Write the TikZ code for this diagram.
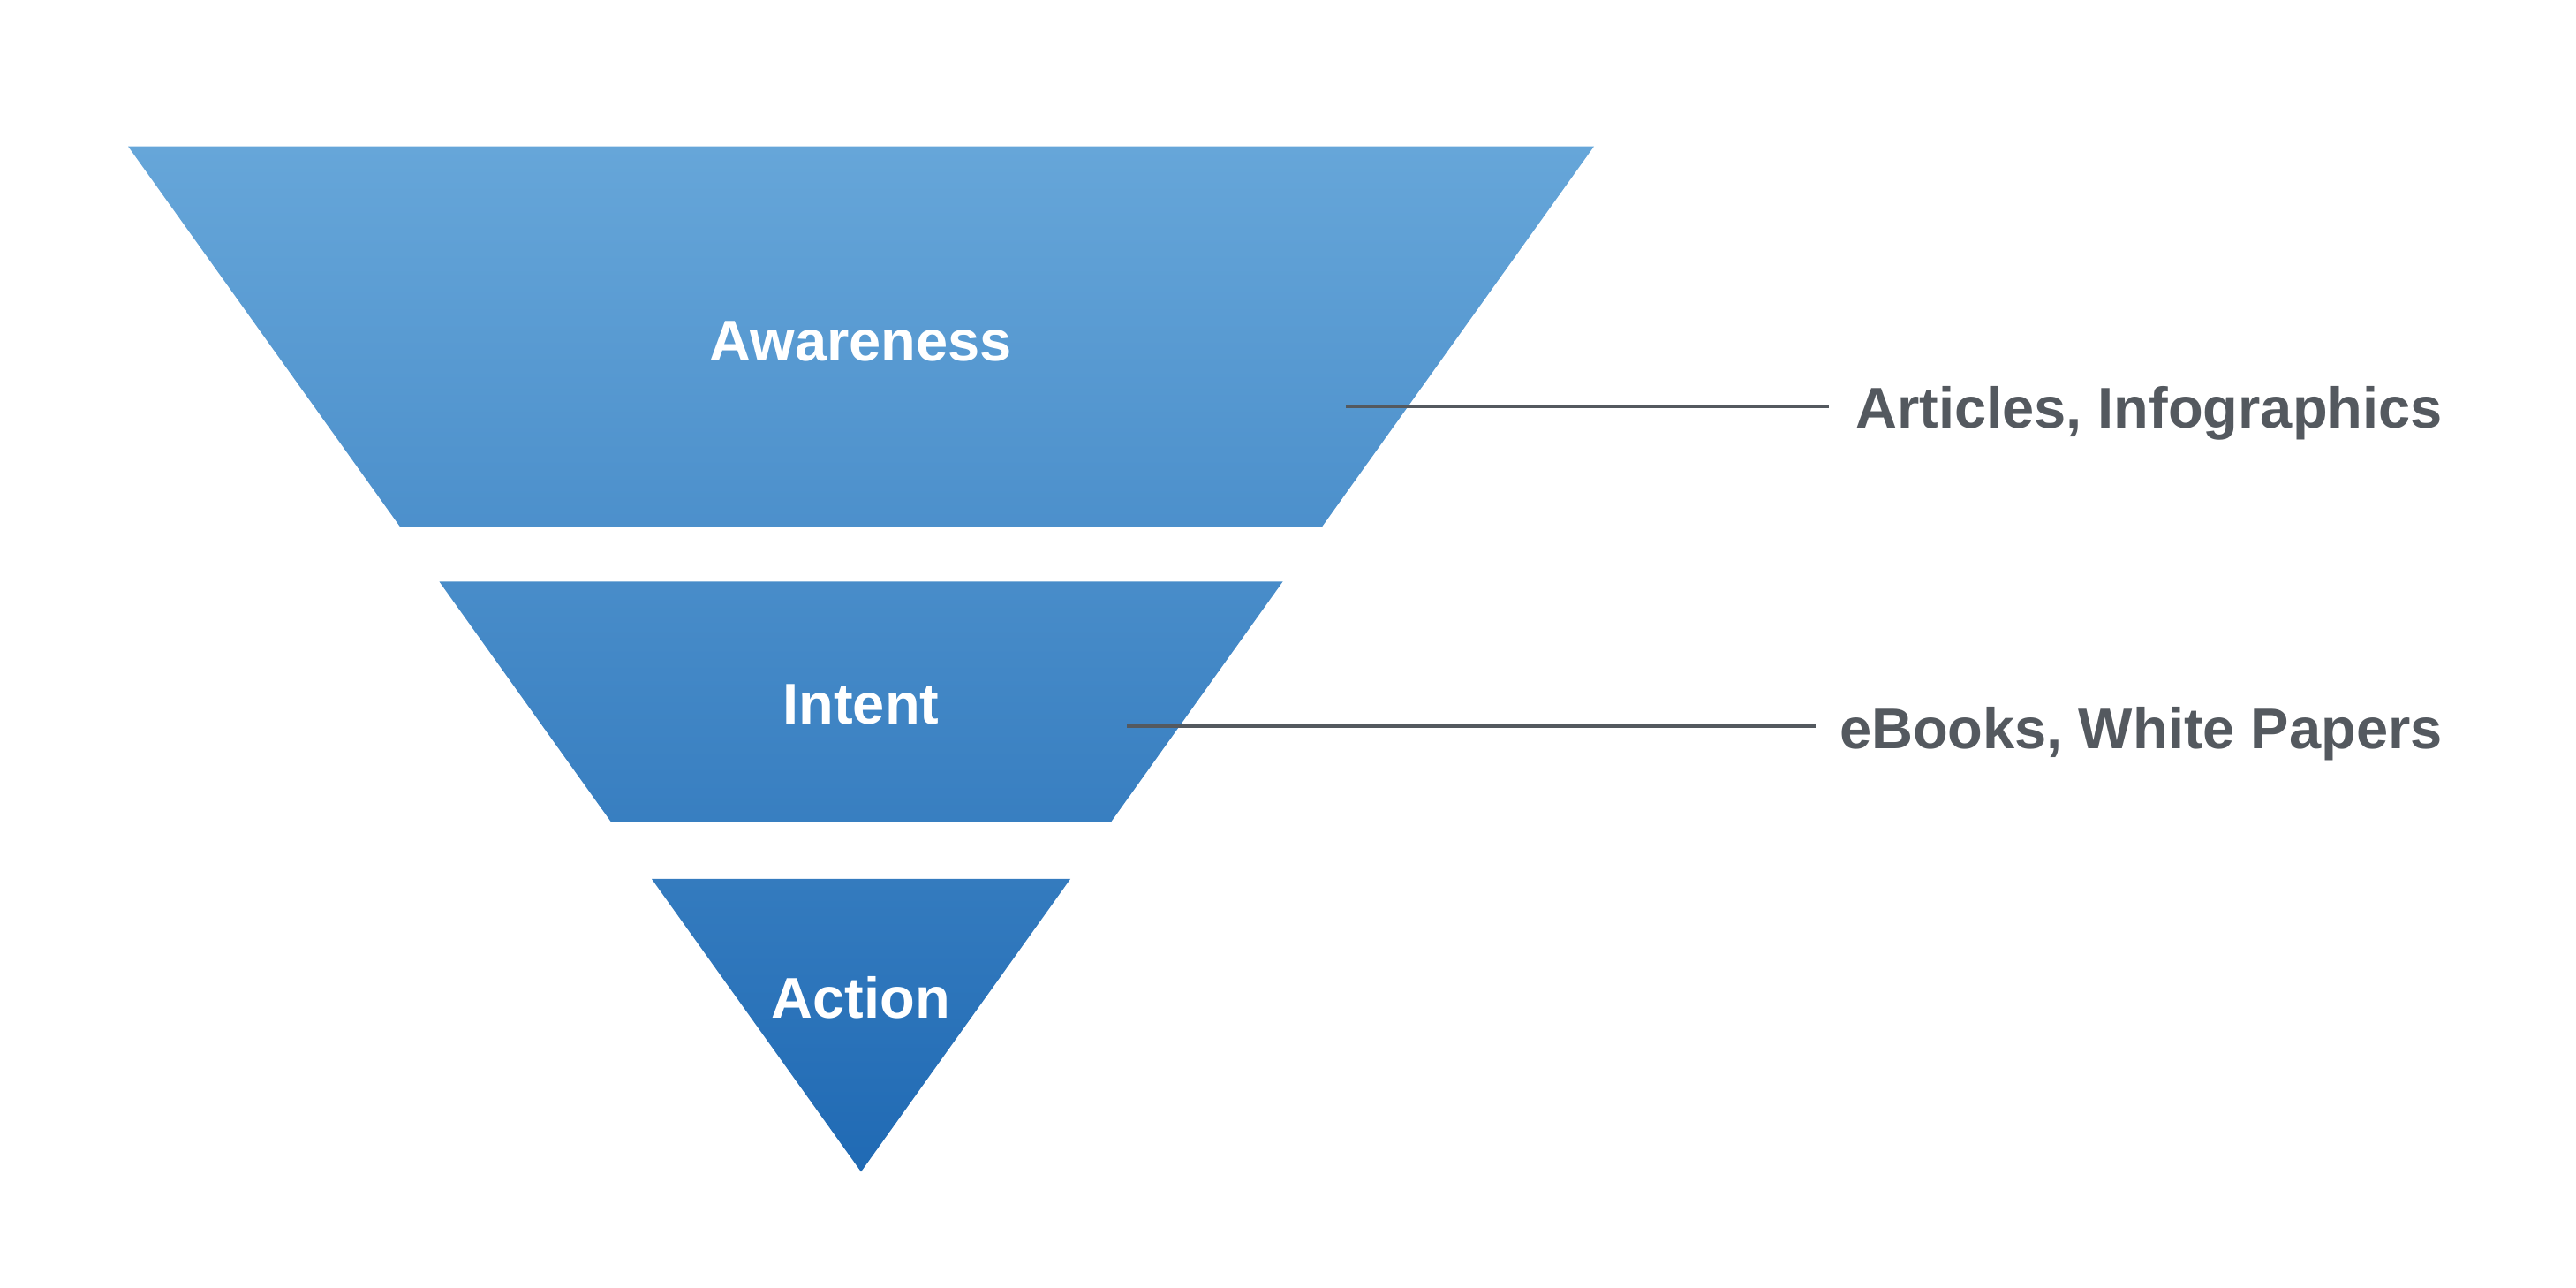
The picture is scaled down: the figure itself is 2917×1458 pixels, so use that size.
\documentclass[tikz,border=0pt]{standalone}
\usepackage{fontspec}
\setmainfont{Liberation Sans}
\definecolor{topblue}{HTML}{66A6D9}
\definecolor{botblue}{HTML}{206AB4}
\definecolor{labgray}{HTML}{54595F}
\tikzset{
  stage/.style={text=white, font=\bfseries\fontsize{65}{78}\selectfont, inner sep=0pt, anchor=base},
  side/.style={text=labgray, font=\bfseries\fontsize{65}{78}\selectfont, inner sep=0pt, anchor=base east},
  leader/.style={draw=labgray, line width=4pt}
}
\begin{document}
\begin{tikzpicture}[x=1pt,y=1pt]
\useasboundingbox (0,0) rectangle (2917,1458);
\begin{scope}
  \clip (145,1292.4) -- (1805,1292.4) -- (1496.5,861) -- (453.5,861) -- cycle
        (497.5,799.5) -- (1452.5,799.5) -- (1258.4,528) -- (691.6,528) -- cycle
        (738,463) -- (1212,463) -- (975,131.6) -- cycle;
  \shade[top color=topblue, bottom color=botblue] (100,1292.4) rectangle (1850,131.6);
\end{scope}
\node[stage] (aw) at (975,1049.5) {Awareness};
\node[stage] (in) at (975,638.5) {Intent};
\node[stage] (ac) at (975,305) {Action};
\node[side] (l1) at (2766,973) {Articles, Infographics};
\node[side] (l2) at (2766,610) {eBooks, White Papers};
\coordinate (s1) at (1524,998);
\coordinate (e1) at (2071,998);
\coordinate (s2) at (1276,635.5);
\coordinate (e2) at (2056,635.5);
\draw[leader] (s1) -- (e1);
\draw[leader] (s2) -- (e2);
\end{tikzpicture}
\end{document}
